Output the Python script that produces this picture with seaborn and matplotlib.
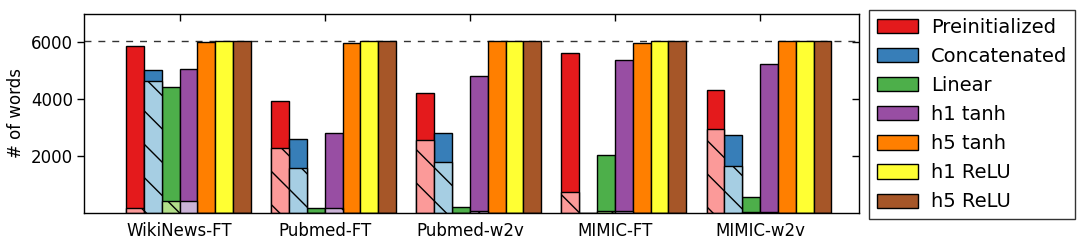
import matplotlib
matplotlib.use("Agg")
import matplotlib.pyplot as plt
import numpy as np
import pandas as pd
import seaborn as sns

# data
datasets = ["WikiNews-FT", "Pubmed-FT", "Pubmed-w2v", "MIMIC-FT", "MIMIC-w2v"]
methods = ["Preinitialized", "Concatenated", "Linear", "h1 tanh",
           "h5 tanh", "h1 ReLU", "h5 ReLU"]

# total number of words per method, one list per dataset
total_words = [
    [5880, 5040, 4440, 5080, 6030, 6055, 6055],
    [3930, 2620, 165, 2830, 5965, 6055, 6055],
    [4235, 2830, 200, 4830, 6060, 6060, 6060],
    [5640, 0, 2025, 5390, 5990, 6060, 6060],
    [4340, 2760, 550, 5230, 6060, 6060, 6060],
]
# hatched lower part of each bar
hatched_words = [
    [170, 4655, 410, 410, 0, 0, 0],
    [2270, 1600, 0, 165, 0, 0, 0],
    [2575, 1780, 0, 80, 0, 0, 0],
    [725, 0, 70, 70, 0, 0, 0],
    [2970, 1640, 40, 35, 0, 0, 0],
]
vocab_size = 6060

colors = ["#e41a1c", "#377eb8", "#4daf4a", "#984ea3", "#ff7f00", "#ffff33", "#a65628"]
light_colors = ["#fb9a99", "#a6cee3", "#b2df8a", "#cab2d6", "#ff7f00", "#ffff33", "#a65628"]

rows = []
for d, tot, hat in zip(datasets, total_words, hatched_words):
    for m, t, h in zip(methods, tot, hat):
        rows.append({"dataset": d, "method": m, "total": t, "hatched": h})
df = pd.DataFrame(rows)

sns.set_style("white")
plt.rcParams["font.family"] = ["DejaVu Sans"]
plt.rcParams["hatch.linewidth"] = 1.0
for key in ["text.color", "axes.labelcolor", "xtick.color", "ytick.color"]:
    plt.rcParams[key] = "black"

fig = plt.figure(figsize=(10.88, 2.45), dpi=100)
ax = fig.add_axes([84 / 1088, 32 / 245, 775 / 1088, 199 / 245])

group_width = 0.86
bar_w = group_width / len(methods)

sns.barplot(data=df, x="dataset", y="total", hue="method", order=datasets,
            hue_order=methods, palette=dict(zip(methods, colors)),
            width=group_width, saturation=1, edgecolor="black", linewidth=1,
            errorbar=None, ax=ax)
sns.barplot(data=df, x="dataset", y="hatched", hue="method", order=datasets,
            hue_order=methods, palette=dict(zip(methods, light_colors)),
            width=group_width, saturation=1, edgecolor="black", linewidth=1,
            hatch="\\", errorbar=None, legend=False, ax=ax)

ax.axhline(vocab_size, color="0.2", linewidth=1, dashes=(5, 5), zorder=0.5)

ax.set_ylim(0, 7000)
ax.set_xlim(-0.72, 4.62)
ax.set_yticks([2000, 4000, 6000])
ax.set_xticks(np.arange(len(datasets)) - bar_w / 2)
ax.set_xticklabels(datasets)
ax.set_xlabel("")
ax.set_ylabel("# of words", fontsize=12)

for s in ax.spines.values():
    s.set_color("black")
    s.set_linewidth(1)
ax.tick_params(axis="y", which="both", left=True, right=False, direction="out",
               length=5, width=1, color="black", labelsize=12, pad=3)
ax.tick_params(axis="x", bottom=False, top=False, labelsize=12, pad=3)
# inward ticks on the top and right edges
sec_x = ax.secondary_xaxis("top")
sec_x.set_xticks(np.arange(len(datasets)) - bar_w / 2)
sec_x.tick_params(direction="in", length=5, width=1, labeltop=False)
sec_x.spines["top"].set_visible(False)
sec_y = ax.secondary_yaxis("right")
sec_y.set_yticks([2000, 4000, 6000])
sec_y.tick_params(direction="in", length=5, width=1, labelright=False)
sec_y.spines["right"].set_visible(False)

leg = ax.legend(loc="upper left", bbox_to_anchor=(869 / 1088, 1 - 10 / 245),
                bbox_transform=fig.transFigure, borderaxespad=0, fontsize=14,
                handlelength=2.1, handleheight=0.75, handletextpad=0.7,
                labelspacing=0.52, borderpad=0.4, fancybox=False, frameon=True)
leg.get_frame().set_edgecolor("black")
leg.get_frame().set_linewidth(1)

fig.savefig("out.png", dpi=100)
